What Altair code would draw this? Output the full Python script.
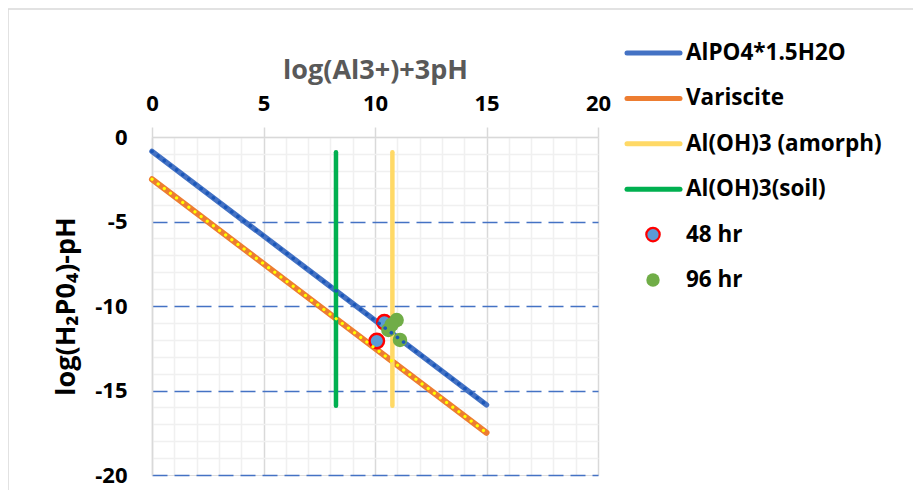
import altair as alt
import pandas as pd

# ---------------- data ----------------
x_ticks = list(range(0, 21))
y_ticks = list(range(-20, 1))

alpo4_x = [0, 15]
alpo4_y = [-0.85, -15.85]
var_x = [0, 15]
var_y = [-2.5, -17.5]
amorph_x = [10.78, 10.78]
amorph_y = [-0.9, -15.9]
soil_x = [8.25, 8.25]
soil_y = [-0.9, -15.9]
h48_x = [10.42, 10.08]
h48_y = [-10.96, -12.07]
h96_x = [10.97, 10.6, 11.12, 10.75]
h96_y = [-10.83, -11.42, -12.01, -11.1]

legend_names = ["AlPO4*1.5H2O", "Variscite", "Al(OH)3 (amorph)", "Al(OH)3(soil)", "48 hr", "96 hr"]
line_names = legend_names[:4]
line_colors = ["#4472C4", "#ED7D31", "#FFD966", "#00B050"]

FONT = "Open Sans"

x_axis = alt.Axis(
    orient="top", values=x_ticks, title="log(Al3+)+3pH",
    labelExpr="datum.value % 5 === 0 ? toString(datum.value) : ''",
    labelFont=FONT, labelFontSize=22, labelFontWeight="bold", labelColor="#000000",
    labelPadding=12, labelFlush=False,
    titleFont=FONT, titleFontSize=27, titleFontWeight="bold", titleColor="#595959",
    titlePadding=8,
    tickSize=10, tickWidth=1.5,
    tickColor=alt.condition("datum.value % 5 === 0", alt.value("#d9d9d9"), alt.value("rgba(0,0,0,0)")),
    domainColor="#d9d9d9", domainWidth=1.5,
    grid=True, gridWidth=1.5,
    gridColor=alt.condition("datum.value % 5 === 0", alt.value("#d9d9d9"), alt.value("#f0f0f0")),
)
y_axis = alt.Axis(
    orient="left", values=y_ticks, title="log(H₂P0₄)-pH",
    labelExpr="datum.value % 5 === 0 ? toString(datum.value) : ''",
    labelFont=FONT, labelFontSize=22, labelFontWeight="bold", labelColor="#000000",
    labelPadding=25, labelFlush=False,
    titleFont=FONT, titleFontSize=27, titleFontWeight="bold", titleColor="#000000",
    titlePadding=14,
    ticks=False,
    domainColor="#d9d9d9", domainWidth=1.5,
    grid=True, gridWidth=1.5,
    gridColor=alt.condition("datum.value % 5 === 0 && datum.value !== 0", alt.value("#4472C4"), alt.value("#f0f0f0")),
    gridDash=alt.condition("datum.value % 5 === 0 && datum.value !== 0", alt.value([15, 7]), alt.value([])),
)

X = alt.X("x:Q", scale=alt.Scale(domain=[0, 20], nice=False, zero=False), axis=x_axis)
Y = alt.Y("y:Q", scale=alt.Scale(domain=[-20, 0], nice=False, zero=False), axis=y_axis)


def line_layer(xs, ys, color, width, dash=None):
    df = pd.DataFrame({"x": xs, "y": ys})
    kw = dict(color=color, strokeWidth=width, strokeCap="round")
    if dash is not None:
        kw["strokeDash"] = dash
    return alt.Chart(df).mark_line(**kw).encode(x=X, y=Y)


def point_layer(xs, ys, fill, stroke=None, sw=0):
    df = pd.DataFrame({"x": xs, "y": ys})
    kw = dict(filled=True, fill=fill, size=210, opacity=1, fillOpacity=1, shape="circle")
    if stroke:
        kw.update(stroke=stroke, strokeWidth=sw)
    else:
        kw.update(strokeWidth=0)
    return alt.Chart(df).mark_point(**kw).encode(x=X, y=Y)


main = alt.layer(
    line_layer(alpo4_x, alpo4_y, "#4472C4", 5.5),
    line_layer(var_x, var_y, "#ED7D31", 6),
    line_layer(soil_x, soil_y, "#00B050", 4.5),
    line_layer(amorph_x, amorph_y, "#FFD966", 4.5),
    point_layer(h48_x, h48_y, "#5B9BD5", "#FF0000", 2.4),
    point_layer(h96_x, h96_y, "#70AD47"),
    line_layer(alpo4_x, alpo4_y, "#1A56B8", 3.6, [0.1, 7.6]),
    line_layer(var_x, var_y, "#FFFF00", 3.2, [0.1, 7.6]),
)

# ---------------- legend (drawn as marks on a point scale) ----------------
LY = alt.Y("name:N", scale=alt.Scale(type="point", domain=legend_names, range=[-84, 143], padding=0), axis=None)

leg_lines = alt.Chart(pd.DataFrame({"name": line_names})).mark_rule(
    strokeWidth=5, strokeCap="round"
).encode(
    x=alt.value(475), x2=alt.value(528), y=LY,
    color=alt.Color("name:N", scale=alt.Scale(domain=line_names, range=line_colors), legend=None),
)
leg_48 = alt.Chart(pd.DataFrame({"name": ["48 hr"]})).mark_point(
    filled=True, fill="#5B9BD5", stroke="#FF0000", strokeWidth=2.2, size=180, opacity=1, shape="circle"
).encode(x=alt.value(501), y=LY)
leg_96 = alt.Chart(pd.DataFrame({"name": ["96 hr"]})).mark_point(
    filled=True, fill="#70AD47", strokeWidth=0, size=180, opacity=1, shape="circle"
).encode(x=alt.value(501), y=LY)
leg_text = alt.Chart(pd.DataFrame({"name": legend_names})).mark_text(
    align="left", baseline="middle", font=FONT, fontSize=22.5, fontWeight="bold", color="#000000"
).encode(x=alt.value(534), y=LY, text="name:N")

frame_left = alt.Chart(pd.DataFrame({"k": [0]})).mark_rule(color="#d9d9d9", strokeWidth=1.5).encode(
    x=alt.value(-144), y=alt.value(-128), y2=alt.value(400))
frame_top = alt.Chart(pd.DataFrame({"k": [0]})).mark_rule(color="#d9d9d9", strokeWidth=1.5).encode(
    x=alt.value(-144), x2=alt.value(800), y=alt.value(-128))

legend = alt.layer(leg_lines, leg_48, leg_96, leg_text, frame_left, frame_top)

chart = alt.layer(main, legend).resolve_scale(y="independent", color="independent").properties(
    width=446, height=338,
    autosize=alt.AutoSizeParams(type="none"),
    padding={"left": 144, "top": 129, "right": 315, "bottom": 15},
).configure_view(stroke=None).configure(background="white")

chart.save("out.html", embed_options={"renderer": "svg", "actions": False})
